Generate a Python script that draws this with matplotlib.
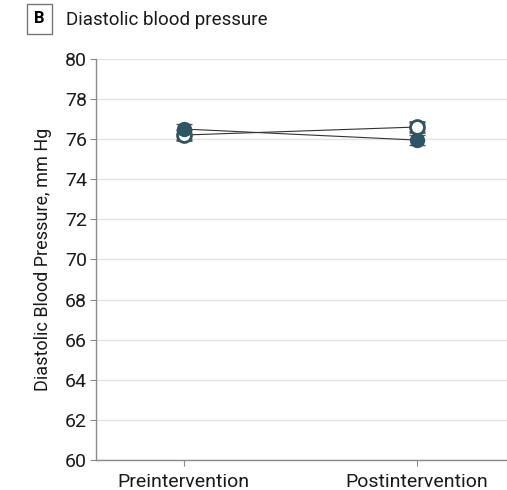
import matplotlib
matplotlib.use("Agg")
import matplotlib.pyplot as plt

plt.rcParams['font.family'] = ['Roboto', 'DejaVu Sans']

# Data
timepoints = ['Preintervention', 'Postintervention']
filled_means = [76.5, 75.95]
filled_err = [0.25, 0.25]
open_means = [76.2, 76.6]
open_err = [0.25, 0.25]

teal = '#2c5566'
grid_gray = '#e3e3e3'
spine_gray = '#8a8a8a'
text_col = '#1a1a1a'

fig = plt.figure(figsize=(5.07, 4.9), dpi=100)
ax = fig.add_axes([0.189, 0.061, 0.811, 0.819])

x = list(range(len(timepoints)))

ax.plot(x, filled_means, color='#333333', lw=0.8, zorder=2)
ax.plot(x, open_means, color='#333333', lw=0.8, zorder=2)

ax.errorbar(x, open_means, yerr=open_err, fmt='o', ms=10, color=teal,
            mfc='white', mec=teal, mew=2.0, ecolor='#555555', elinewidth=0.8, capsize=5.5, capthick=1.0, zorder=3)
ax.errorbar(x, filled_means, yerr=filled_err, fmt='o', ms=10, color=teal,
            mfc=teal, mec=teal, ecolor='#555555', elinewidth=0.8, capsize=5.5, capthick=1.0, zorder=4)

ax.set_ylim(60, 80)
ax.set_yticks(range(60, 81, 2))
ax.set_xlim(-0.377, 1.387)
ax.set_xticks(x)
ax.set_xticklabels(timepoints, fontsize=14, color=text_col)
ax.tick_params(axis='y', labelsize=14, length=4.5, color=spine_gray, pad=2, labelcolor=text_col)
ax.tick_params(axis='x', length=4.5, color=spine_gray, pad=5)

ax.grid(axis='y', color=grid_gray, lw=1.0)
ax.set_axisbelow(True)
for s in ['top', 'right']:
    ax.spines[s].set_visible(False)
for s in ['left', 'bottom']:
    ax.spines[s].set_color(spine_gray)
    ax.spines[s].set_linewidth(1.0)

ax.set_ylabel('Diastolic Blood Pressure, mm Hg', fontsize=13, labelpad=9, color=text_col)

# Panel title with boxed letter
fig.text(0.078, 0.962, 'B', fontsize=12, fontweight='bold', ha='center', va='center',
         bbox=dict(boxstyle='square,pad=0.45', fc='white', ec='#777777', lw=1.0))
fig.text(0.130, 0.960, 'Diastolic blood pressure', fontsize=13.5, ha='left', va='center', color=text_col)

fig.savefig('out.png', dpi=100)
